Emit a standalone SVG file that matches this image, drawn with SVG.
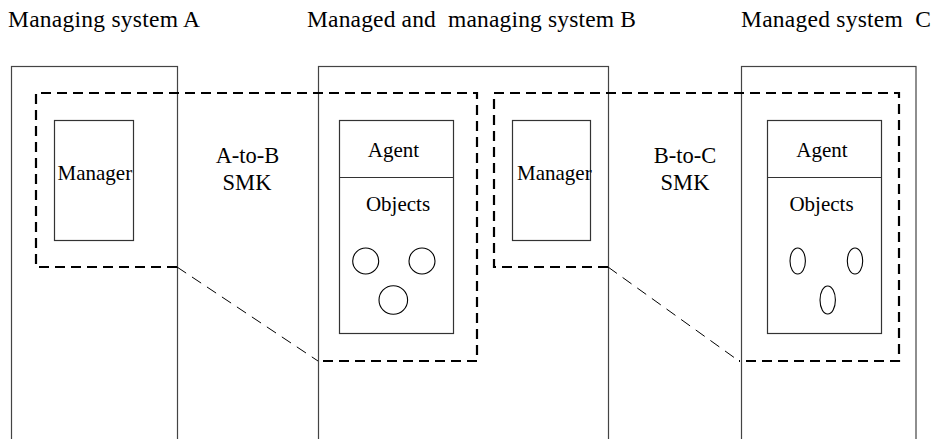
<svg xmlns="http://www.w3.org/2000/svg" width="936" height="439" viewBox="0 0 936 439">
<style>
text{font-family:"Liberation Serif","Times New Roman",serif;fill:#000}
.title{font-size:23.5px}
.lbl{font-size:21px}
.smkl{font-size:22.5px}
.sys{fill:none;stroke:#444;stroke-width:1.2}
.box{fill:none;stroke:#333;stroke-width:1.2}
.smk{fill:none;stroke:#000;stroke-width:2.2;stroke-dasharray:10 6}
.conn{fill:none;stroke:#000;stroke-width:1;stroke-dasharray:11 7}
.obj{fill:none;stroke:#000;stroke-width:1.1}
</style>
<rect width="936" height="439" fill="#fff"/>
<g id="sysA">
<rect class="sys" x="11.5" y="66.5" width="166" height="400"/>
<text class="title" x="8" y="27" textLength="192" lengthAdjust="spacing">Managing system A</text>
</g>
<g id="sysB">
<rect class="sys" x="318.5" y="66.5" width="290" height="400"/>
<text class="title" x="307" y="27" textLength="329" lengthAdjust="spacing" xml:space="preserve">Managed and  managing system B</text>
</g>
<g id="sysC">
<rect class="sys" x="741.5" y="66.5" width="174.5" height="400"/>
<text class="title" x="741" y="27" textLength="190" lengthAdjust="spacing" xml:space="preserve">Managed system  C</text>
</g>
<g id="smkAB">
<path class="smk" d="M177,267 H36 V93 H477 V361 H318"/>
<text class="smkl" x="247.5" y="162.5" text-anchor="middle">A-to-B</text>
<text class="smkl" x="247" y="189.5" text-anchor="middle">SMK</text>
</g>
<g id="smkBC">
<path class="smk" d="M608,267 H494 V93 H899 V361 H739"/>
<text class="smkl" x="685" y="162.5" text-anchor="middle">B-to-C</text>
<text class="smkl" x="685" y="189.5" text-anchor="middle">SMK</text>
</g>
<g id="managerA">
<rect class="box" x="54.5" y="120.5" width="79" height="120"/>
<text class="lbl" x="57.5" y="180">Manager</text>
</g>
<g id="agentB">
<rect class="box" x="339.5" y="120.5" width="114" height="213"/>
<line class="box" x1="339.5" y1="177.5" x2="453.5" y2="177.5"/>
<text class="lbl" x="393.5" y="156.5" text-anchor="middle">Agent</text>
<text class="lbl" x="398" y="210.5" text-anchor="middle">Objects</text>
<circle class="obj" cx="365.7" cy="261" r="13"/>
<circle class="obj" cx="422" cy="261" r="13"/>
<circle class="obj" cx="393.3" cy="300" r="14.3"/>
</g>
<g id="managerB">
<rect class="box" x="512.5" y="120.5" width="78" height="120"/>
<text class="lbl" x="517" y="180">Manager</text>
</g>
<g id="agentC">
<rect class="box" x="767.5" y="120.5" width="114" height="213"/>
<line class="box" x1="767.5" y1="177.5" x2="881.5" y2="177.5"/>
<text class="lbl" x="822" y="156.5" text-anchor="middle">Agent</text>
<text class="lbl" x="821.5" y="210.5" text-anchor="middle">Objects</text>
<ellipse class="obj" cx="797.7" cy="261" rx="7.7" ry="13"/>
<ellipse class="obj" cx="855" cy="261" rx="7.7" ry="13"/>
<ellipse class="obj" cx="827.7" cy="300" rx="7.7" ry="14"/>
</g>
<g id="connectors">
<path class="conn" d="M177,267 L318,361"/>
<path class="conn" d="M608,267 L739,361"/>
</g>
</svg>
